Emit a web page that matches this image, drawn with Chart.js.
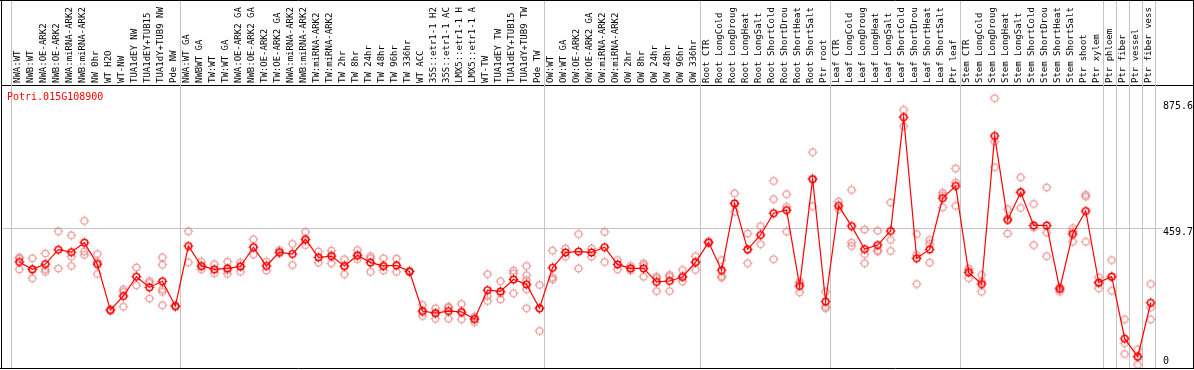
<!DOCTYPE html>
<html><head><meta charset="utf-8">
<script src="https://cdn.jsdelivr.net/npm/chart.js@4.4.1/dist/chart.umd.min.js"></script>
<style>html,body{margin:0;padding:0;background:#fff;}canvas{display:block;}</style>
</head><body>
<canvas id="c" width="1194" height="370"></canvas>
<script>
const geneId = 'Potri.015G108900';
const categories = ['NWA:WT','NWB:WT','NWA:OE-ARK2','NWB:OE-ARK2','NWA:miRNA-ARK2','NWB:miRNA-ARK2','NW 0hr','WT H2O','WT-NW','TUA1dEY NW','TUA1dEY+TUB15','TUA1dY+TUB9 NW','Pde NW',
'NWA:WT GA','NWBWT GA','TW:WT','TW:WT GA','NWA:OE-ARK2 GA','NWB:OE-ARK2 GA','TW:OE-ARK2','TW:OE-ARK2 GA','NWA:miRNA-ARK2','NWB:miRNA-ARK2','TW:miRNA-ARK2','TW:miRNA-ARK2','TW 2hr','TW 8hr','TW 24hr','TW 48hr','TW 96hr','TW 336hr','WT ACC','35S::etr1-1 H2','35S::etr1-1 AC','LMX5::etr1-1 H','LMX5::etr1-1 A','WT-TW','TUA1dEY TW','TUA1dEY+TUB15','TUA1dY+TUB9 TW','Pde TW',
'OW:WT','OW:WT GA','OW:OE-ARK2','OW:OE-ARK2 GA','OW:miRNA-ARK2','OW:miRNA-ARK2','OW 2hr','OW 8hr','OW 24hr','OW 48hr','OW 96hr','OW 336hr',
'Root CTR','Root LongCold','Root LongDroug','Root LongHeat','Root LongSalt','Root ShortCold','Root ShortDrou','Root ShortHeat','Root ShortSalt','Ptr root',
'Leaf CTR','Leaf LongCold','Leaf LongDroug','Leaf LongHeat','Leaf LongSalt','Leaf ShortCold','Leaf ShortDrou','Leaf ShortHeat','Leaf ShortSalt','Ptr leaf',
'Stem CTR','Stem LongCold','Stem LongDroug','Stem LongHeat','Stem LongSalt','Stem ShortCold','Stem ShortDrou','Stem ShortHeat','Stem ShortSalt','Ptr shoot','Ptr xylem',
'Ptr phloem','Ptr fiber','Ptr vessel','Ptr fiber vess'];
const meanValues = [349,325,342,389,381,412,342,192,238,301,266,286,205,
401,336,325,328,334,397,336,381,375,423,364,368,336,371,347,336,338,318,189,182,189,186,163,257,253,292,276,198,
330,380,383,380,397,341,328,328,284,287,300,348,
413,322,540,390,437,508,518,271,619,220,
532,466,391,404,450,821,361,390,557,597,
315,277,760,486,576,468,468,261,440,515,282,
301,99,40,216];
const replicateValues = [
[364,360,325],[361,326,296],[377,325,317],[449,328],[436,366,336],[483,383,372],[375,349,310],[195,190],[260,252,203],[331,273],[287,281,230],[364,340,260,252,208],[207,203],
[449,348],[350,334,325],[342,312],[350,310,322],[347,317,336],[423,373],[350,321],[388,377],[408,339],[447,404,418],[383,347],[386,345,372],[358,309,334],[388,358,368],[368,361,317],[361,321,334],[360,317],[320,316],[209,173,186],[198,164,182],[200,164,203],[212,162,184],[171,153,164],[309,222,238],[286,247,227],[321,312,247],[336,306,290,260,198],[274,124,198],
[386,299,292],[393,366],[440,328],[393,366],[447,349],[355,325],[336,321],[345,301,339],[301,254,296],[307,254,301],[323,285,301],[368,323,350],
[410,416],[355,303,298],[573,513,539],[442,345,389],[466,407],[613,554,358],[570,529,448],[285,250,279],[707,531,620],[252,198,203],
[546,521],[584,412,401],[455,375,345],[451,383,388],[543,421,385],[845,792],[440,372,277],[421,408,347],[575,527,567],[654,608,532],
[328,296,321],[307,252,285],[883,741,658],[521,442,491],[625,525,578],[538,461,404],[592,445,368],[252,266,264],[459,415,448],[562,568,415],[299,263,279],
[355,255,301],[162,84,49],[64,14,40],[277,200,162]];
const yTickValues = [0, 459.7, 875.6];
const yTickLabels = ['0', '459.7', '875.6'];
const groupBreaks = [0, 13, 41, 53, 63, 73, 84, 85, 86, 87, 88];

const Y_MIN = 0, Y_MAX = 926, X_MIN = -0.33, X_MAX = 91.25;
const yLabelNudgePx = [-7.3, 4.4, 6.2];
const MONO = '"DejaVu Sans Mono", "Liberation Mono", monospace';

function makeMarker(color, lw) {
  const c = document.createElement('canvas');
  c.width = 11; c.height = 11;
  const g = c.getContext('2d');
  g.strokeStyle = color; g.lineWidth = lw;
  g.beginPath(); g.arc(5.5, 5.5, 3.3, 0, Math.PI * 2); g.stroke();
  g.lineWidth = 1;
  g.beginPath();
  g.moveTo(5.5, 0.6); g.lineTo(5.5, 2.2);
  g.moveTo(5.5, 8.8); g.lineTo(5.5, 10.4);
  g.moveTo(0.6, 5.5); g.lineTo(2.2, 5.5);
  g.moveTo(8.8, 5.5); g.lineTo(10.4, 5.5);
  g.stroke();
  return c;
}
const meanMarker = makeMarker('#ff0000', 1.6);
const repMarker = makeMarker('rgba(228,110,110,0.6)', 1.4);

const meanData = meanValues.map((v, i) => ({x: i + 1, y: v}));
const repData = [];
replicateValues.forEach((arr, i) => arr.forEach(v => repData.push({x: i + 1, y: v})));

const framePlugin = {
  id: 'frame',
  beforeDatasetsDraw(chart) {
    const {ctx, chartArea} = chart;
    const x = chart.scales.x;
    ctx.save();
    ctx.strokeStyle = '#c4c4c4';
    ctx.lineWidth = 1;
    groupBreaks.forEach(k => {
      const px = Math.round(x.getPixelForValue(k + 0.36)) + 0.5;
      ctx.beginPath(); ctx.moveTo(px, 0); ctx.lineTo(px, chartArea.bottom); ctx.stroke();
    });
    ctx.restore();
  },
  afterDraw(chart) {
    const {ctx, chartArea} = chart;
    ctx.save();
    ctx.strokeStyle = '#000';
    ctx.lineWidth = 1;
    ctx.beginPath();
    ctx.moveTo(0, 0.5); ctx.lineTo(chart.width, 0.5);
    ctx.moveTo(1.5, 0); ctx.lineTo(1.5, chartArea.bottom);
    ctx.moveTo(chart.width - 0.5, 0); ctx.lineTo(chart.width - 0.5, chartArea.bottom);
    ctx.moveTo(0, chartArea.bottom - 0.5); ctx.lineTo(chart.width, chartArea.bottom - 0.5);
    ctx.stroke();
    ctx.fillStyle = '#ff0000';
    ctx.font = '10px ' + MONO;
    ctx.textBaseline = 'middle';
    ctx.textAlign = 'left';
    ctx.fillText(geneId, 7, 97);
    ctx.restore();
  }
};

new Chart(document.getElementById('c'), {
  type: 'line',
  data: {
    datasets: [
      {label: geneId, data: meanData, borderColor: '#ff0000', borderWidth: 1.2, pointStyle: meanMarker,
       pointRadius: 4, backgroundColor: 'rgba(0,0,0,0)', tension: 0, fill: false},
      {label: 'replicates', data: repData, showLine: false, pointStyle: repMarker, pointRadius: 4,
       borderColor: 'rgba(228,110,110,0.6)', backgroundColor: 'rgba(0,0,0,0)'}
    ]
  },
  options: {
    responsive: false,
    animation: false,
    devicePixelRatio: 1,
    layout: {autoPadding: false, padding: {left: 2, right: 1, top: 0, bottom: 1}},
    plugins: {legend: {display: false}, tooltip: {enabled: false}},
    scales: {
      x: {
        type: 'linear', position: 'top', min: X_MIN, max: X_MAX,
        afterBuildTicks: s => { s.ticks = categories.map((c, i) => ({value: i + 1})); },
        afterFit: s => { s.height = 85; s.paddingLeft = 0; s.paddingRight = 0; },
        grid: {display: false, drawTicks: false},
        border: {display: true, color: '#000', width: 1},
        ticks: {
          autoSkip: false, maxRotation: 90, minRotation: 90, padding: 2, labelOffset: -1,
          font: {family: MONO, size: 9, lineHeight: '1px'}, color: '#000',
          callback: (v) => categories[Math.round(v) - 1]
        }
      },
      y: {
        type: 'linear', position: 'right', min: Y_MIN, max: Y_MAX,
        afterBuildTicks: s => { s.ticks = yTickValues.map(v => ({value: v})); },
        afterFit: s => { s.width = 0; s.paddingTop = 0; s.paddingBottom = 0; },
        grid: {drawTicks: false, color: c => (c.tick && c.tick.value === 459.7) ? '#c4c4c4' : 'rgba(0,0,0,0)'},
        border: {display: false},
        ticks: {display: false}
      },
      y2: {
        type: 'linear', position: 'right', min: Y_MIN, max: Y_MAX,
        afterBuildTicks: s => { s.ticks = yTickValues.map((v, i) => ({value: v - yLabelNudgePx[i] * (Y_MAX - Y_MIN) / 284})); },
        afterFit: s => { s.width = 0; s.paddingTop = 0; s.paddingBottom = 0; },
        grid: {display: false, drawTicks: false},
        border: {display: false},
        ticks: {
          mirror: true, crossAlign: 'far', padding: 0, color: '#000', font: {family: MONO, size: 10, lineHeight: '1px'},
          showLabelBackdrop: true, backdropColor: '#ffffff', backdropPadding: {top: 5, bottom: 5, left: 1, right: 0},
          callback: (v, i) => yTickLabels[i]
        }
      }
    }
  },
  plugins: [framePlugin]
});
</script>
</body></html>
